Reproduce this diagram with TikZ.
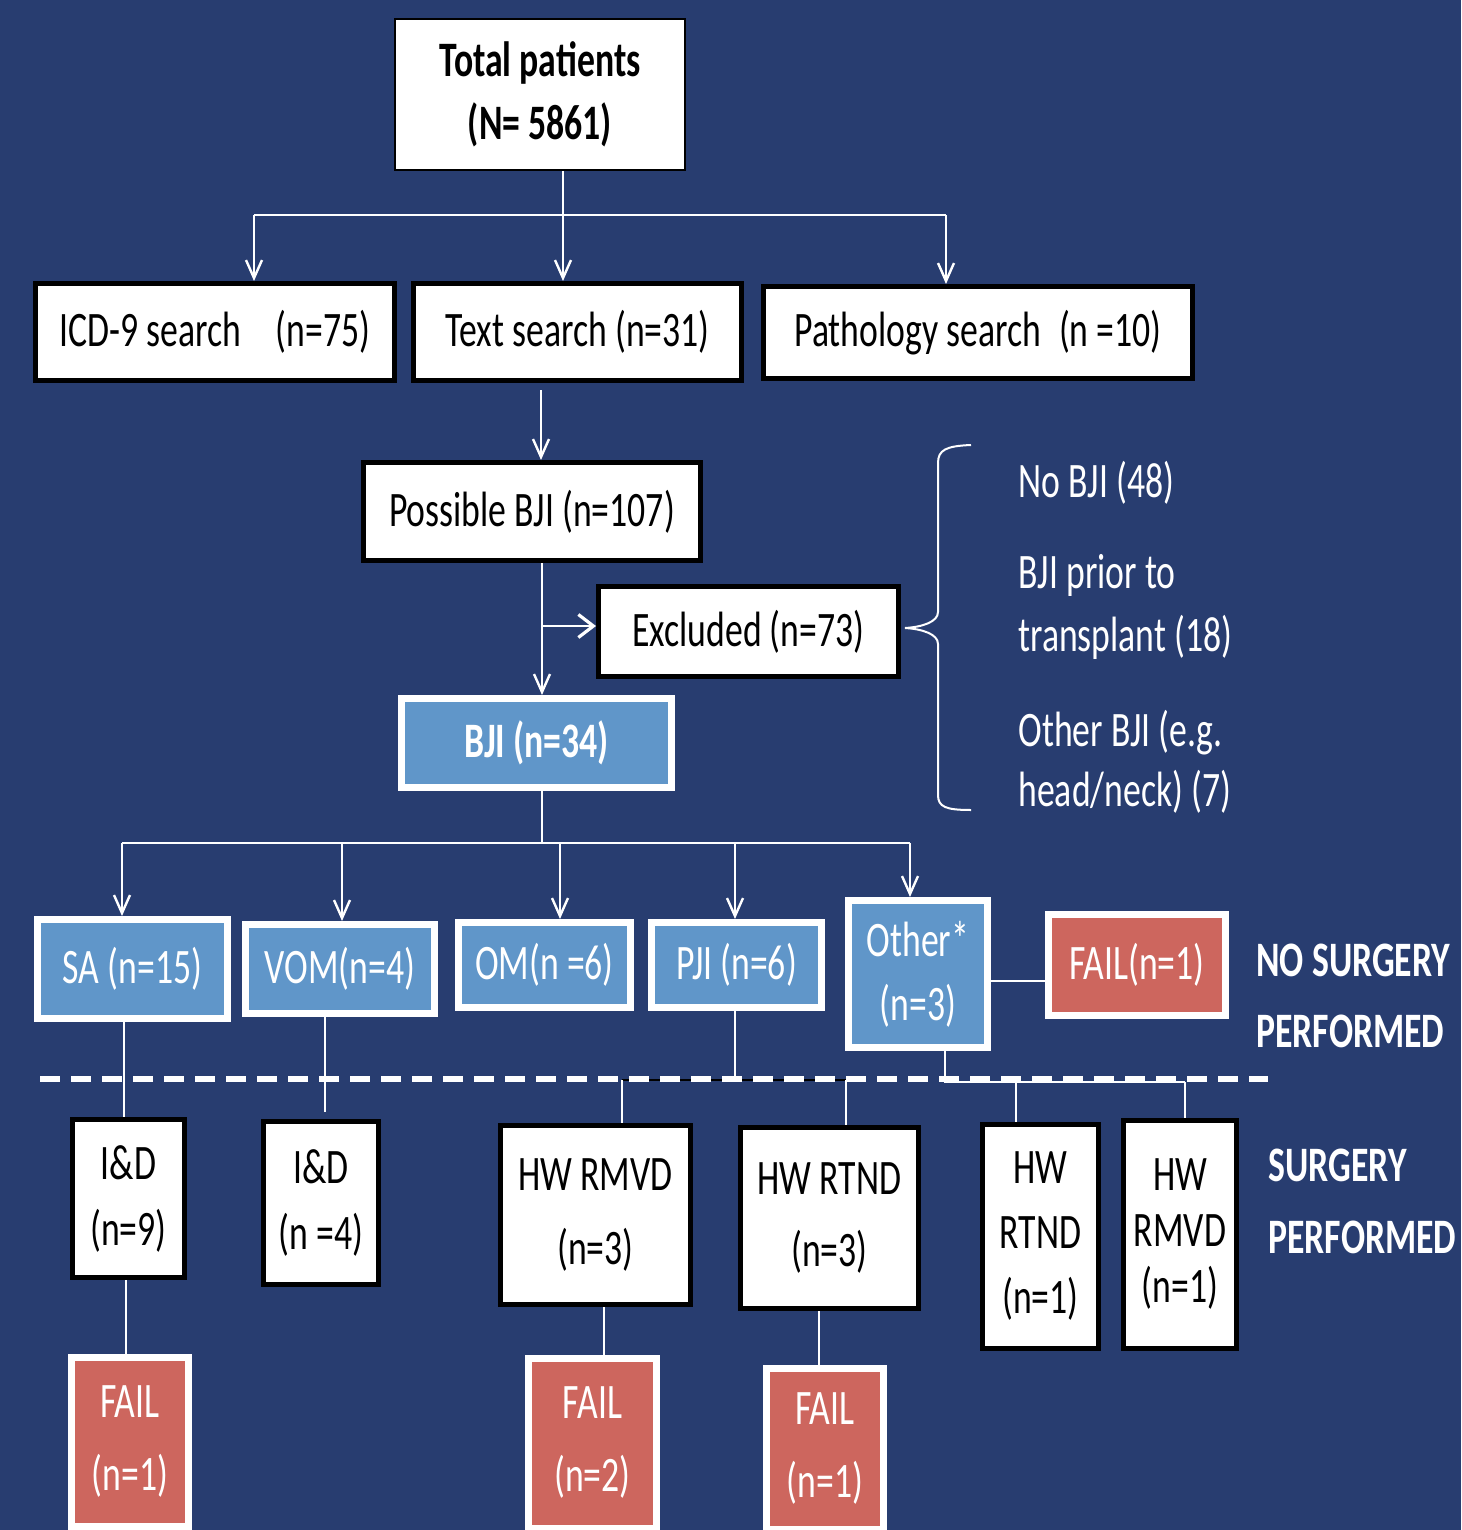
\documentclass[tikz,border=0pt]{standalone}
\usepackage{fontspec}
\setmainfont{Carlito}[FakeStretch=0.72]
\usetikzlibrary{arrows.meta,shadows}
\definecolor{bg}{RGB}{40,61,112}
\definecolor{bjblue}{RGB}{96,150,201}
\definecolor{failred}{RGB}{205,102,94}
\begin{document}
\begin{tikzpicture}[x=0.5pt,y=-0.5pt,
  every node/.style={font=\fontsize{24.8}{33}\selectfont, inner sep=0pt, align=center},
  boldfont/.style={font=\fontsize{24.8}{33}\selectfont\bfseries},
  wbox/.style={draw=black, line width=2.5pt, fill=white, text=black},
  thinbox/.style={draw=black, line width=1pt, fill=white, text=black},
  bbox/.style={draw=white, line width=3.5pt, fill=bjblue, text=white,
    drop shadow={opacity=0.35, shadow xshift=1.2pt, shadow yshift=-1.2pt}},
  rbox/.style={draw=white, line width=3.5pt, fill=failred, text=white,
    drop shadow={opacity=0.35, shadow xshift=1.2pt, shadow yshift=-1.2pt}},
  conn/.style={draw=white, line width=1pt},
  arr/.style={conn, -{Straight Barb[length=9pt,width=8pt,line width=1.2pt]}},
  bigarr/.style={draw=white, line width=1.3pt, -{Straight Barb[length=7.5pt,width=11.5pt,line width=1.6pt]}},
  lbl/.style={text=white, anchor=west, align=left},
  sep/.style={draw=white, line width=3pt, dash pattern=on 10pt off 5.5pt},
]
\fill[bg] (0,0) rectangle (1461,1530);
\useasboundingbox (0,0) rectangle (1461,1530);
\clip (0,0) rectangle (1461,1530);

% top level
\node[thinbox, boldfont, minimum width=145pt, minimum height=75.5pt] (total) at (540,94.5) {Total patients\\[-1.5pt](N= 5861)};
\node[wbox, minimum width=179.5pt, minimum height=48.5pt] (icd) at (215,332) {ICD-9 search\hspace{13pt} (n=75)};
\node[wbox, minimum width=164pt, minimum height=48.5pt] (tsearch) at (577.5,332) {Text search (n=31)};
\node[wbox, minimum width=214.5pt, minimum height=46pt] (psearch) at (978,332.5) {Pathology search\hspace{5pt} (n =10)};

\node[wbox, minimum width=168.5pt, minimum height=49pt] (posbji) at (532,511.5) {Possible BJI (n=107)};
\node[wbox, minimum width=150pt, minimum height=45pt] (excl) at (748.5,631.5) {Excluded (n=73)};
\node[bbox, boldfont, minimum width=135pt, minimum height=44.5pt] (bji) at (536.5,743) {BJI (n=34)};

% exclusion reasons
\node[lbl] (r1) at (1018,483) {No BJI (48)};
\node[lbl] (r2) at (1018,606.5) {BJI prior to\\[-1.5pt]transplant (18)};
\node[lbl] (r3) at (1018,762) {Other BJI (e.g.\\[-3pt]head/neck) (7)};

% infection types
\node[bbox, minimum width=95pt, minimum height=49.5pt] (sa) at (132.5,969) {SA (n=15)};
\node[bbox, minimum width=94.5pt, minimum height=44.5pt] (vom) at (340,969) {VOM(n=4)};
\node[bbox, minimum width=86pt, minimum height=42.5pt] (om) at (544.5,965) {OM(n =6)};
\node[bbox, minimum width=85pt, minimum height=42.5pt] (pji) at (736.5,965) {PJI (n=6)};
\node[bbox, minimum width=69.5pt, minimum height=73.5pt] (other) at (918,974) {Other*\\[-1pt](n=3)};
\node[rbox, minimum width=88.5pt, minimum height=50.5pt] (fail0) at (1137,965) {FAIL(n=1)};

\node[lbl, boldfont] (nosurg) at (1256,995.5) {NO SURGERY\\[2.5pt]PERFORMED};
\node[lbl, boldfont] (surg) at (1268,1201) {SURGERY\\[3pt]PERFORMED};

% surgeries
\node[wbox, minimum width=56pt, minimum height=79pt] (id9) at (128.5,1198.5) {I\&D\\(n=9)};
\node[wbox, minimum width=57.5pt, minimum height=81.5pt] (id4) at (321,1203) {I\&D\\(n =4)};
\node[wbox, minimum width=95pt, minimum height=89.5pt] (rmvd3) at (595.5,1215) {HW RMVD\\[4pt](n=3)};
\node[wbox, minimum width=89pt, minimum height=90.5pt] (rtnd3) at (829.5,1218) {HW RTND\\[3pt](n=3)};
\node[wbox, minimum width=58pt, minimum height=112pt] (rtnd1) at (1040.5,1236.5) {HW\\[-0.5pt]RTND\\[-0.5pt](n=1)};
\node[wbox, minimum width=56.5pt, minimum height=114pt] (rmvd1) at (1180,1234.5) {HW\\[-5pt]RMVD\\[-5pt](n=1)};

% failures
\node[rbox, minimum width=58.5pt, minimum height=84.5pt] (fail1) at (130,1442) {FAIL\\[3.5pt](n=1)};
\node[rbox, minimum width=64pt, minimum height=85pt] (fail2) at (592.5,1443) {FAIL\\[3.5pt](n=2)};
\node[rbox, minimum width=58.5pt, minimum height=80.5pt] (fail3) at (825,1449) {FAIL\\[3.5pt](n=1)};

% connectors: top
\coordinate (j1) at (563,215);
\coordinate (hL) at (254,215);
\coordinate (hR) at (946,215);
\draw[conn] (total.south -| j1) -- (j1);
\draw[conn] (hL) -- (hR);
\draw[arr] (hL) -- (hL |- icd.north);
\draw[arr] (j1) -- (j1 |- tsearch.north);
\draw[arr] (hR) -- (hR |- psearch.north);

\coordinate (t1) at (541,390);
\draw[arr] (t1) -- (t1 |- posbji.north);
\coordinate (p1) at (542,563);
\draw[arr] (p1 |- posbji.south) -- (p1 |- bji.north);
\coordinate (p2) at (542,626);
\draw[bigarr] (p2) -- (p2 -| excl.west);

% brace
\draw[conn] (971,445) .. controls (946,446) and (938,450) .. (938,463)
  -- (938,612) .. controls (938,622) and (922,627) .. (905,628)
  .. controls (922,629) and (938,634) .. (938,644)
  -- (938,795) .. controls (938,807) and (946,810) .. (971,810);

% second level
\coordinate (b1) at (542,843);
\coordinate (a1) at (122,843);
\coordinate (a2) at (342,843);
\coordinate (a3) at (560,843);
\coordinate (a4) at (735,843);
\coordinate (a5) at (910,843);
\draw[conn] (b1 |- bji.south) -- (b1);
\draw[conn] (a1) -- (a5);
\draw[arr] (a1) -- (a1 |- sa.north);
\draw[arr] (a2) -- (a2 |- vom.north);
\draw[arr] (a3) -- (a3 |- om.north);
\draw[arr] (a4) -- (a4 |- pji.north);
\draw[arr] (a5) -- (a5 |- other.north);
\coordinate (o1) at (991,981);
\draw[conn] (o1) -- (o1 -| fail0.west);

% to surgeries
\coordinate (s1) at (124,1100);
\draw[conn] (s1 |- sa.south) -- (s1 |- id9.north);
\coordinate (v1) at (325,1112);
\draw[conn] (v1 |- vom.south) -- (v1);
\coordinate (q1) at (735,1080);
\coordinate (qL) at (622,1080);
\coordinate (qR) at (846,1080);
\draw[conn] (q1 |- pji.south) -- (q1);
\draw[draw=black, line width=1pt] (qL) -- (qR);
\draw[conn] (qL) -- (qL |- rmvd3.north);
\draw[conn] (qR) -- (qR |- rtnd3.north);
\coordinate (u1) at (945,1082);
\coordinate (uL) at (1016,1082);
\coordinate (uR) at (1185,1082);
\draw[conn] (u1 |- other.south) -- (u1) -- (uR);
\draw[conn] (uL) -- (uL |- rtnd1.north);
\draw[conn] (uR) -- (uR |- rmvd1.north);

% to failures
\coordinate (f1) at (126,1300);
\coordinate (f2) at (604,1330);
\coordinate (f3) at (819,1330);
\draw[conn] (f1 |- id9.south) -- (f1 |- fail1.north);
\draw[conn] (f2 |- rmvd3.south) -- (f2 |- fail2.north);
\draw[conn] (f3 |- rtnd3.south) -- (f3 |- fail3.north);

% separator
\draw[sep] (40,1079) -- (1268,1079);
\end{tikzpicture}
\end{document}
